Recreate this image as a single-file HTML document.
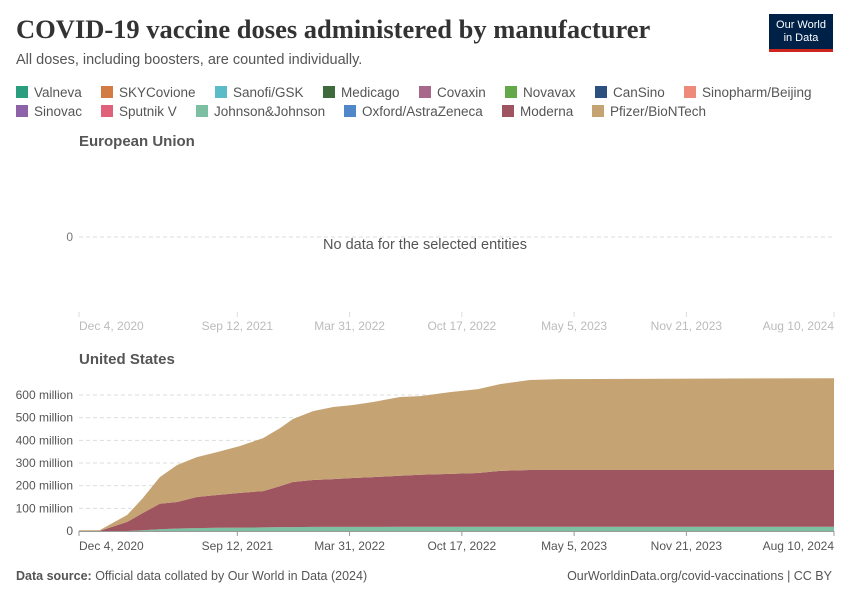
<!DOCTYPE html>
<html><head><meta charset="utf-8"><style>
body{margin:0;width:850px;height:600px;background:#fff;font-family:"Liberation Sans",sans-serif;position:relative;overflow:hidden}
.t{position:absolute;white-space:nowrap}
.leg{position:absolute;font-size:13.5px;color:#555;white-space:nowrap}
.leg span.sw{display:inline-block;width:12px;height:12px;margin-right:6px;vertical-align:-1px}
</style></head><body>
<div class="t" style="left:16px;top:14px;font-family:'Liberation Serif',serif;font-size:26.5px;font-weight:bold;color:#333">COVID-19 vaccine doses administered by manufacturer</div>
<div class="t" style="left:16px;top:52px;font-size:14.5px;color:#555">All doses, including boosters, are counted individually.</div>
<div style="position:absolute;left:769px;top:14px;width:64px;height:38px;background:#002147;border-bottom:3px solid #ce261e;color:#fff;font-size:11px;line-height:13px;text-align:center;padding-top:5px;box-sizing:border-box">Our World<br>in Data</div>
<div id="legend"></div>
<svg id="svg" width="850" height="600" style="position:absolute;left:0;top:0"></svg>
<div class="t" style="left:16px;top:569px;font-size:12.5px;color:#555"><b>Data source:</b> Official data collated by Our World in Data (2024)</div>
<div class="t" style="right:18px;top:569px;font-size:12.5px;color:#555">OurWorldinData.org/covid-vaccinations | CC BY</div>
<script>
const legendNames=["Valneva","SKYCovione","Sanofi/GSK","Medicago","Covaxin","Novavax","CanSino","Sinopharm/Beijing","Sinovac","Sputnik V","Johnson&Johnson","Oxford/AstraZeneca","Moderna","Pfizer/BioNTech"];
const legendColors=["#2a9d7f","#d27b45","#5cbbc9","#3f6a3c","#a8688c","#63a84a","#2e5080","#ee8a7a","#8d62a8","#e0627a","#7cbfa2","#4f87c9","#9e5560","#c6a373"];
const dates=["2020-12-04","2021-01-10","2021-02-28","2021-03-28","2021-04-27","2021-05-28","2021-07-02","2021-08-07","2021-09-17","2021-10-28","2021-11-27","2021-12-20","2022-01-25","2022-03-02","2022-04-06","2022-05-12","2022-06-29","2022-08-04","2022-09-26","2022-11-15","2022-12-24","2023-02-15","2023-04-10","2024-08-10"];
const jj=[0,0,0,3,8,11,13,14,15,16,17,17,18,18,18,18,19,19,19,19,19,19,19,19];
const moderna=[0,0.5,40,77,112,117,137,145,153,160,181,199,207,211,216,220,225,229,233,237,246,250,250,250];
const pfizer=[3,3.5,31,66,118,163,176,189,207,234,256,278,304,318,322,331,347,347,361,370,383,397,401,405];
const yTicks=[0,100,200,300,400,500,600];
const xTickLabels=["Dec 4, 2020","Sep 12, 2021","Mar 31, 2022","Oct 17, 2022","May 5, 2023","Nov 21, 2023","Aug 10, 2024"];
const xTickDates=["2020-12-04","2021-09-12","2022-03-31","2022-10-17","2023-05-05","2023-11-21","2024-08-10"];

const NS="http://www.w3.org/2000/svg";
const svg=document.getElementById('svg');
function mk(tag,attrs){const e=document.createElementNS(NS,tag);for(const k in attrs)e.setAttribute(k,attrs[k]);svg.appendChild(e);return e;}
const leg=document.getElementById('legend');
const rows=[[0,8],[8,14]];
rows.forEach((r,ri)=>{let x=16;for(let i=r[0];i<r[1];i++){const d=document.createElement('div');d.className='leg';


d.style.left=x+'px';d.style.top=(85+ri*19)+'px';d.innerHTML='<span class="sw" style="background:'+legendColors[i]+'"></span>'+legendNames[i].replace('&','&amp;');leg.appendChild(d);x+=d.offsetWidth+19;}});
const d0=Date.parse(dates[0]),d1=Date.parse("2024-08-10");
const X0=79,X1=834;
function xs(s){return X0+(Date.parse(s)-d0)/(d1-d0)*(X1-X0);}
function txt(x,y,s,attrs){const e=mk('text',Object.assign({x:x,y:y,'font-family':'Liberation Sans, sans-serif'},attrs));e.textContent=s;return e;}
let e=txt(79,146,"European Union",{'font-size':15,'font-weight':'bold',fill:'#555'});
e=mk('line',{x1:79,x2:834,y1:237,y2:237,stroke:'#ddd','stroke-dasharray':'4,3'});
e=txt(73,241,"0",{'font-size':12,fill:'#777','text-anchor':'end'});
e=txt(425,249,"No data for the selected entities",{'font-size':14.5,fill:'#555','text-anchor':'middle'});
xTickDates.forEach((d,i)=>{const x=xs(d);const a=i==0?'start':(i==6?'end':'middle');
const t=txt(i==0?79:x,330,xTickLabels[i],{'font-size':12,fill:'#bbb','text-anchor':a});
const l=mk('line',{x1:x,x2:x,y1:312,y2:317,stroke:'#ddd'});});
e=txt(79,364,"United States",{'font-size':15,'font-weight':'bold',fill:'#555'});
const Y0=531,PER=(531-395)/600;
function ys(v){return Y0-v*PER;}
yTicks.forEach(v=>{if(v>0){const l=mk('line',{x1:79,x2:834,y1:ys(v),y2:ys(v),stroke:'#ddd','stroke-dasharray':'4,3'});}
const t=txt(73,ys(v)+4,v==0?"0":v+" million",{'font-size':12,fill:'#555','text-anchor':'end'});});
const series=[["jj",jj,"#7cbfa2"],["moderna",moderna,"#9e5560"],["pfizer",pfizer,"#c6a373"]];
const base=dates.map(()=>0);
series.forEach(([n,vals,c])=>{const top=base.map((b,i)=>b+vals[i]);
let p="M"+dates.map((d,i)=>xs(d).toFixed(1)+","+ys(top[i]).toFixed(1)).join("L");
for(let i=dates.length-1;i>=0;i--)p+="L"+xs(dates[i]).toFixed(1)+","+ys(base[i]).toFixed(1);
const a=mk('path',{d:p+"Z",fill:c});
top.forEach((v,i)=>base[i]=v);});
e=mk('line',{x1:79,x2:834,y1:531.5,y2:531.5,stroke:'#999'});
xTickDates.forEach((d,i)=>{const x=xs(d);const a=i==0?'start':(i==6?'end':'middle');
const t=txt(i==0?79:x,550,xTickLabels[i],{'font-size':12,fill:'#555','text-anchor':a});
const l=mk('line',{x1:x,x2:x,y1:531,y2:536,stroke:'#999'});});
</script>
</body></html>
